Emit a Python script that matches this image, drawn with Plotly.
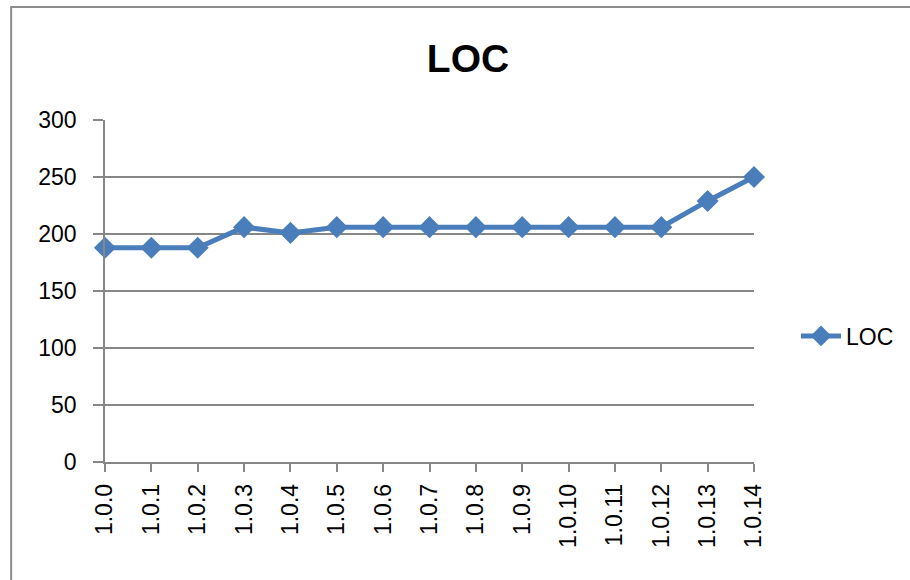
import plotly.graph_objects as go

# LOC per release
versions = ["1.0.0", "1.0.1", "1.0.2", "1.0.3", "1.0.4", "1.0.5", "1.0.6", "1.0.7",
            "1.0.8", "1.0.9", "1.0.10", "1.0.11", "1.0.12", "1.0.13", "1.0.14"]
loc = [188, 188, 188, 206, 201, 206, 206, 206, 206, 206, 206, 206, 206, 229, 250]
y_ticks = [0, 50, 100, 150, 200, 250, 300]

W, H = 910, 580
L, R, T, B = 105, 155, 120, 118
pw, ph = W - L - R, H - T - B

def px_x(p):
    return (p - L) / pw

def px_y(p):
    return (H - B - p) / ph

grey = "#878787"
blue = "#4A7EBB"
font = "Liberation Sans, Arial, sans-serif"

fig = go.Figure()
fig.add_trace(go.Scatter(
    x=versions, y=loc, name="LOC", mode="lines+markers",
    line=dict(color=blue, width=5),
    marker=dict(symbol="diamond", size=17, color=blue),
    cliponaxis=False,
))

fig.update_layout(
    width=W, height=H,
    margin=dict(l=L, r=R, t=T, b=B),
    paper_bgcolor="white", plot_bgcolor="white",
    font=dict(family=font, color="black", size=23),
    title=dict(text="<b>LOC</b>", x=468 / W, xanchor="center",
               y=1 - 58 / H, yanchor="middle",
               font=dict(size=39, family=font, color="black")),
    showlegend=True,
    legend=dict(x=px_x(796), y=px_y(336), xanchor="left", yanchor="middle",
                font=dict(size=23), bgcolor="rgba(0,0,0,0)", itemwidth=40),
    shapes=[dict(type="rect", xref="paper", yref="paper",
                 x0=px_x(11), x1=px_x(940), y0=px_y(620), y1=px_y(7),
                 line=dict(color="#8c8c8c", width=2), layer="below")],
)

fig.update_xaxes(
    type="category", range=[0, len(versions) - 1],
    showgrid=False, showline=True, linecolor=grey, linewidth=1.5,
    ticks="outside", ticklen=8, tickcolor=grey, tickwidth=1.5,
    tickangle=-90, tickfont=dict(size=23), ticklabelstandoff=3, zeroline=False,
)
fig.update_yaxes(
    range=[0, 300], tickvals=y_ticks,
    showgrid=True, gridcolor=grey, gridwidth=1.5,
    showline=True, linecolor=grey, linewidth=1.5,
    ticks="outside", ticklen=10, tickcolor=grey, tickwidth=1.5,
    tickfont=dict(size=23), ticklabelstandoff=12, zeroline=False,
)

fig.write_html("out.html")
